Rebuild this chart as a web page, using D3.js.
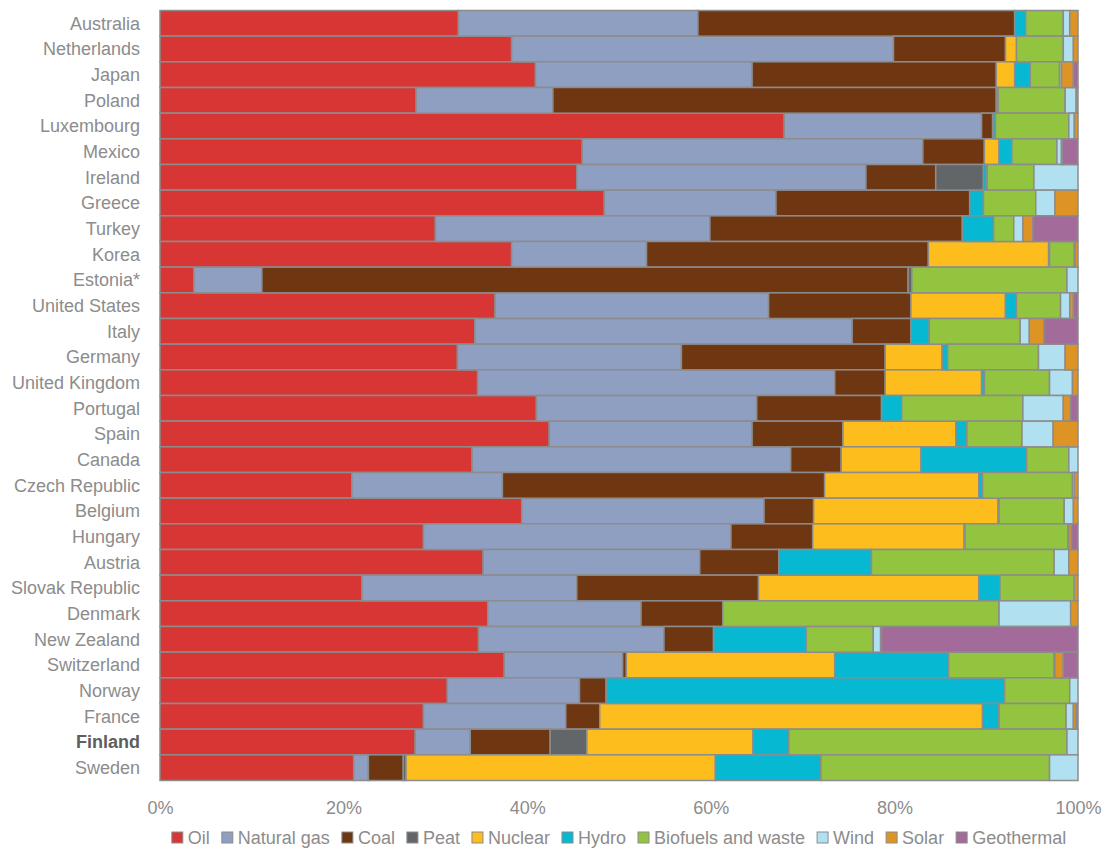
<!DOCTYPE html>
<html>
<head>
<meta charset="utf-8">
<script src="https://cdn.jsdelivr.net/npm/d3@7"></script>
<style>
  body { margin: 0; background: #fff; }
  text { font-family: "Liberation Sans", Arial, sans-serif; }
</style>
</head>
<body>
<div id="chart"></div>
<script>
var countries = ["Australia", "Netherlands", "Japan", "Poland", "Luxembourg", "Mexico", "Ireland", "Greece",
	"Turkey", "Korea", "Estonia*", "United States", "Italy", "Germany", "United Kingdom", "Portugal", "Spain",
	"Canada", "Czech Republic", "Belgium", "Hungary", "Austria", "Slovak Republic", "Denmark", "New Zealand",
	"Switzerland", "Norway", "France", "Finland", "Sweden"];

var sources = ["Oil", "Natural gas", "Coal", "Peat", "Nuclear", "Hydro", "Biofuels and waste", "Wind", "Solar", "Geothermal"];
var colors = ["#d83635", "#8e9fc2", "#6f3612", "#626668", "#fdbd1d", "#06b8d2", "#92c43f", "#b1e1f1", "#dd9424", "#a36b99"];

// shares in %, one value per country (same order as countries)
var oil        = [32.5, 38.3, 40.9, 27.9, 68.0, 46.0, 45.4, 48.4, 30.0, 38.3, 3.7, 36.5, 34.3, 32.4, 34.6, 41.0, 42.4, 34.0, 20.9, 39.4, 28.7, 35.2, 22.0, 35.7, 34.7, 37.5, 31.3, 28.7, 27.8, 21.1];
var gas        = [26.1, 41.6, 23.6, 14.9, 21.5, 37.1, 31.5, 18.7, 29.9, 14.7, 7.4, 29.8, 41.1, 24.4, 38.9, 24.0, 22.1, 34.7, 16.4, 26.4, 33.5, 23.6, 23.4, 16.7, 20.2, 12.9, 14.4, 15.5, 6.0, 1.6];
var coal       = [34.5, 12.2, 26.6, 48.3, 1.2, 6.7, 7.6, 21.1, 27.5, 30.7, 70.4, 15.5, 6.4, 22.2, 5.5, 13.6, 9.9, 5.5, 35.1, 5.4, 8.9, 8.6, 19.8, 8.9, 5.4, 0.4, 2.9, 3.7, 8.7, 3.8];
var peat       = [0, 0, 0, 0, 0, 0, 5.2, 0, 0, 0, 0.4, 0, 0, 0, 0, 0, 0, 0, 0, 0, 0, 0, 0, 0, 0, 0, 0, 0, 4.0, 0.3];
var nuclear    = [0, 1.2, 2.0, 0, 0, 1.6, 0, 0, 0, 13.1, 0, 10.3, 0, 6.2, 10.5, 0, 12.3, 8.7, 16.8, 20.1, 16.5, 0, 24.0, 0, 0, 22.7, 0, 41.7, 18.1, 33.7];
var hydro      = [1.2, 0, 1.7, 0.2, 0.3, 1.4, 0.4, 1.5, 3.4, 0.1, 0, 1.2, 2.0, 0.6, 0.3, 2.2, 1.2, 11.5, 0.4, 0.1, 0.1, 10.1, 2.3, 0, 10.1, 12.4, 43.4, 1.8, 3.9, 11.5];
var biofuels   = [4.1, 5.1, 3.2, 7.3, 8.0, 4.9, 5.1, 5.7, 2.2, 2.7, 16.9, 4.8, 9.9, 9.9, 7.1, 13.2, 6.0, 4.6, 9.8, 7.1, 11.2, 19.9, 8.1, 30.1, 7.3, 11.5, 7.1, 7.3, 30.3, 24.9];
var wind       = [0.7, 1.1, 0.2, 1.2, 0.6, 0.5, 4.8, 2.1, 1.0, 0.1, 1.2, 1.0, 1.0, 2.9, 2.5, 4.4, 3.4, 1.0, 0.2, 1.0, 0.1, 1.6, 0, 7.8, 0.8, 0.1, 0.9, 0.8, 1.2, 3.1];
var solar      = [0.9, 0.5, 1.3, 0.2, 0.4, 0.1, 0, 2.5, 1.1, 0.3, 0, 0.4, 1.6, 1.4, 0.6, 0.8, 2.7, 0, 0.4, 0.5, 0.3, 1.0, 0.4, 0.8, 0.1, 0.9, 0, 0.3, 0, 0];
var geothermal = [0, 0, 0.5, 0, 0, 1.7, 0, 0, 4.9, 0, 0, 0.5, 3.7, 0, 0, 0.8, 0, 0, 0, 0, 0.7, 0, 0, 0, 21.4, 1.6, 0, 0.2, 0, 0];

var ticks = [0, 20, 40, 60, 80, 100];

var series = [oil, gas, coal, peat, nuclear, hydro, biofuels, wind, solar, geothermal];
var rows = countries.map(function(c, i) {
	var r = {country: c};
	sources.forEach(function(s, j) { r[s] = series[j][i]; });
	return r;
});

var width = 1105, height = 850;
var plotLeft = 160, plotRight = 1078, plotTop = 10.5, plotBottom = 780.5;
var grey = "#8c8c8c";

var svg = d3.select("#chart")
	.append("svg")
	.attr("width", width)
	.attr("height", height);

var x = d3.scaleLinear().domain([0, 100]).range([plotLeft, plotRight]);
var y = d3.scaleBand().domain(countries).range([plotTop, plotBottom]).padding(0);
var color = d3.scaleOrdinal().domain(sources).range(colors);

var stacked = d3.stack().keys(sources)(rows);

svg.append("g")
	.selectAll("g")
	.data(stacked)
	.enter()
	.append("g")
	.attr("fill", function(d) { return color(d.key); })
	.selectAll("rect")
	.data(function(d) { return d.filter(function(p) { return p[1] - p[0] > 0; }); })
	.enter()
	.append("rect")
	.attr("x", function(d) { return x(d[0]); })
	.attr("y", function(d) { return y(d.data.country); })
	.attr("width", function(d) { return x(d[1]) - x(d[0]); })
	.attr("height", y.bandwidth())
	.attr("stroke", grey)
	.attr("stroke-width", 1.5);

// country labels
svg.append("g")
	.selectAll("text")
	.data(countries)
	.enter()
	.append("text")
	.attr("x", 140)
	.attr("y", function(d) { return y(d) + y.bandwidth() / 2; })
	.attr("dy", "0.35em")
	.attr("text-anchor", "end")
	.attr("font-size", "18px")
	.attr("font-weight", function(d) { return d == "Finland" ? "bold" : "normal"; })
	.attr("fill", function(d) { return d == "Finland" ? "#5e5e5e" : grey; })
	.text(function(d) { return d; });

// x axis
var xAxis = svg.append("g")
	.attr("transform", "translate(0," + (plotBottom + 18) + ")")
	.call(d3.axisBottom(x).tickValues(ticks).tickSize(0).tickFormat(function(d) { return d + "%"; }));
xAxis.select(".domain").remove();
xAxis.selectAll("text")
	.attr("font-size", "18px")
	.attr("font-family", "Liberation Sans, Arial, sans-serif")
	.attr("fill", grey);

// legend
var legend = svg.append("g").attr("transform", "translate(0,838)");
var items = legend.selectAll("g")
	.data(sources)
	.enter()
	.append("g");
items.append("rect")
	.attr("x", 0)
	.attr("y", -6)
	.attr("width", 11)
	.attr("height", 11)
	.attr("fill", function(d) { return color(d); })
	.attr("stroke", grey)
	.attr("stroke-width", 1);
items.append("text")
	.attr("x", 16)
	.attr("dy", "0.35em")
	.attr("font-size", "18px")
	.attr("fill", grey)
	.text(function(d) { return d; });

var pos = 0;
var offsets = [];
items.each(function(d) {
	offsets.push(pos);
	pos += 16 + this.querySelector("text").getComputedTextLength() + 12;
});
var total = pos - 12;
var start = (plotLeft + plotRight) / 2 - total / 2;
items.attr("transform", function(d, i) { return "translate(" + (start + offsets[i]) + ",0)"; });
</script>
</body>
</html>
